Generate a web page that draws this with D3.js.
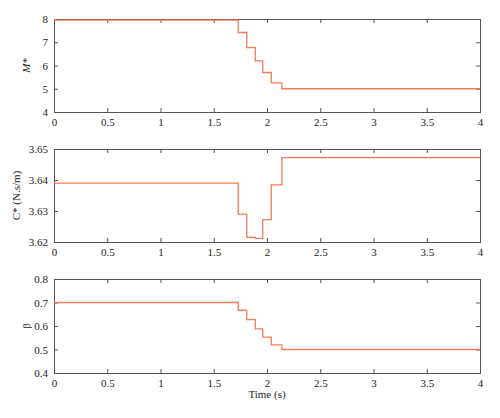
<!DOCTYPE html>
<html>
<head>
<meta charset="UTF-8">
<script src="https://d3js.org/d3.v7.min.js"></script>
<style>
  body { margin: 0; background: #fff; }
  text { font-family: "Liberation Serif", serif; font-size: 11px; fill: #222; }
</style>
</head>
<body>
<svg width="500" height="418"></svg>
<script>
const stepTimes = [0, 1.73, 1.81, 1.89, 1.96, 2.04, 2.14, 4];
const mValues = [7.95, 7.42, 6.77, 6.2, 5.7, 5.25, 5.0];
const cValues = [3.639, 3.629, 3.6215, 3.6212, 3.6272, 3.6384, 3.6472];
const bValues = [0.70, 0.667, 0.627, 0.588, 0.553, 0.52, 0.50];
const xTicks = [0, 0.5, 1, 1.5, 2, 2.5, 3, 3.5, 4];

const panels = [
  {vals: mValues, dom: [4, 8], ticks: [4, 5, 6, 7, 8], fmt: d3.format("d"), top: 19, bottom: 112, label: "M*"},
  {vals: cValues, dom: [3.62, 3.65], ticks: [3.62, 3.63, 3.64, 3.65], fmt: d3.format(".2f"), top: 149, bottom: 242, label: "C* (N.s/m)"},
  {vals: bValues, dom: [0.4, 0.8], ticks: [0.4, 0.5, 0.6, 0.7, 0.8], fmt: d3.format(".1f"), top: 279, bottom: 373, label: "β"}
];

const svg = d3.select("svg");
const x = d3.scaleLinear().domain([0, 4]).range([54, 480]);

panels.forEach(p => {
  const y = d3.scaleLinear().domain(p.dom).range([p.bottom, p.top]);
  const g = svg.append("g");

  g.append("g").attr("transform", `translate(0,${p.bottom})`)
    .call(d3.axisBottom(x).tickValues(xTicks).tickSize(-4).tickPadding(6).tickFormat(d => d));
  g.append("g").attr("transform", `translate(0,${p.top})`)
    .call(d3.axisTop(x).tickValues(xTicks).tickSize(-4).tickFormat(""));
  g.append("g").attr("transform", "translate(54,0)")
    .call(d3.axisLeft(y).tickValues(p.ticks).tickSize(-4).tickPadding(6).tickFormat(p.fmt));
  g.append("g").attr("transform", "translate(480,0)")
    .call(d3.axisRight(y).tickValues(p.ticks).tickSize(-4).tickFormat(""));
  g.selectAll(".domain, .tick line").attr("stroke", "#555");
  g.selectAll(".tick text").style("font-size", "11px");

  const pts = p.vals.map((v, i) => [stepTimes[i], v]);
  pts.push([4, p.vals[p.vals.length - 1]]);
  g.append("path").datum(pts)
    .attr("fill", "none").attr("stroke", "#f47c55").attr("stroke-width", 1.3)
    .attr("d", d3.line().x(d => x(d[0])).y(d => y(d[1])).curve(d3.curveStepAfter));

  const ly = (p.top + p.bottom) / 2;
  const t = g.append("text").attr("transform", `translate(${p.label === "C* (N.s/m)" ? 20 : 30},${ly}) rotate(-90)`)
    .attr("text-anchor", "middle").style("font-style", p.label === "M*" ? "italic" : "normal");
  t.text(p.label);
});

svg.append("text").attr("x", 267).attr("y", 398).attr("text-anchor", "middle").text("Time (s)");
</script>
</body>
</html>
